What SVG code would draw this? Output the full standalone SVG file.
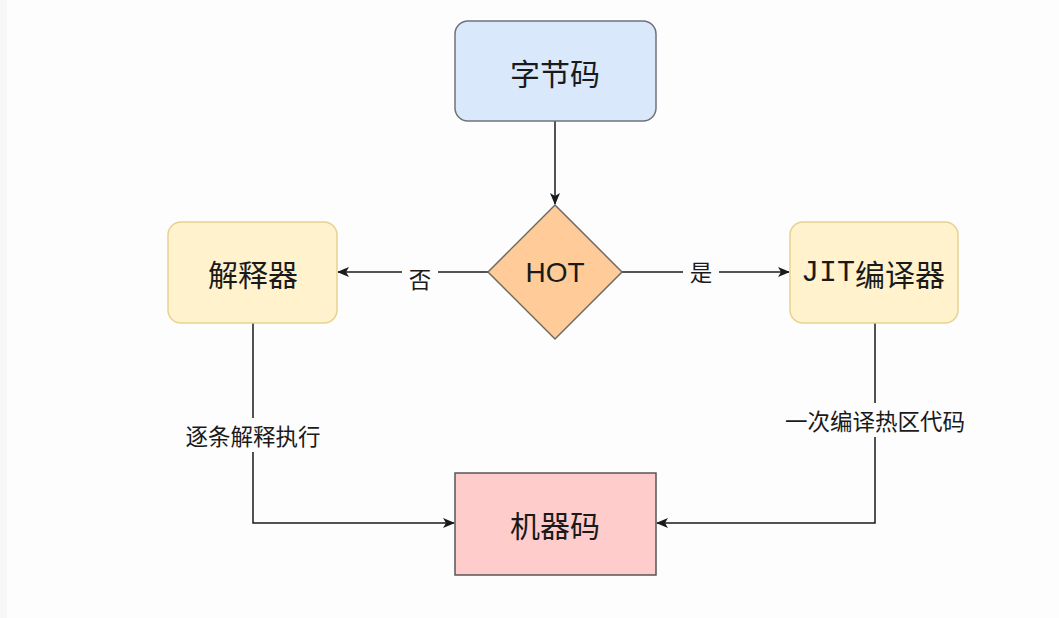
<svg xmlns="http://www.w3.org/2000/svg" width="1059" height="618" viewBox="0 0 1059 618">
<style>
.n{font-family:"Noto Sans CJK SC","Liberation Sans",sans-serif;font-size:30px;font-weight:normal;fill:#1a1a1a;text-anchor:middle;dominant-baseline:central}
.l{font-family:"Noto Sans CJK SC","Liberation Sans",sans-serif;font-size:22.5px;fill:#1a1a1a;text-anchor:middle;dominant-baseline:central}
.e{fill:none;stroke:#1a1a1a;stroke-width:1.5}
</style>
<defs>
<marker id="a" viewBox="0 0 12 10" refX="11" refY="5" markerWidth="12" markerHeight="10" markerUnits="userSpaceOnUse" orient="auto">
<path d="M0,0 L12,5 L0,10 L3,5 Z" fill="#1a1a1a"/>
</marker>
</defs>
<rect width="1059" height="618" fill="#fdfdfd"/>
<rect width="7" height="618" fill="#f7f7f7"/>
<g id="edges">
<path class="e" d="M555,121 L555,204" marker-end="url(#a)"/>
<path class="e" d="M488,272 L338,272" marker-end="url(#a)"/>
<path class="e" d="M622,272 L789,272" marker-end="url(#a)"/>
<path class="e" d="M253,323 L253,523 L454,523" marker-end="url(#a)"/>
<path class="e" d="M875,323 L875,523 L657,523" marker-end="url(#a)"/>
<rect x="402" y="262" width="36" height="32" fill="#fdfdfd"/>
<text class="l" x="420" y="278">否</text>
<rect x="683" y="256" width="36" height="32" fill="#fdfdfd"/>
<text class="l" x="701" y="271">是</text>
<rect x="178" y="418" width="150" height="34" fill="#fdfdfd"/>
<text class="l" x="253" y="435">逐条解释执行</text>
<rect x="778" y="403" width="194" height="34" fill="#fdfdfd"/>
<text class="l" x="875" y="420">一次编译热区代码</text>
</g>
<g id="bytecode">
<rect x="455" y="21" width="201" height="100" rx="13" fill="#dae8fc" stroke="#6f7378" stroke-width="1.5"/>
<text class="n" x="555" y="72">字节码</text>
</g>
<g id="hot">
<polygon points="555,205 622,272 555,339 488,272" fill="#ffcc99" stroke="#6f6a64" stroke-width="1.5"/>
<text class="n" x="555" y="272" style="font-family:'Liberation Sans',sans-serif;font-size:28px">HOT</text>
</g>
<g id="interpreter">
<rect x="168" y="222" width="169" height="101" rx="13" fill="#fff2cc" stroke="#e6d291" stroke-width="1.5"/>
<text class="n" x="253" y="273">解释器</text>
</g>
<g id="jit">
<rect x="790" y="222" width="168" height="101" rx="13" fill="#fff2cc" stroke="#e6d291" stroke-width="1.5"/>
<text class="n" x="873" y="273"><tspan style="font-family:'Liberation Mono',monospace">JIT</tspan>编译器</text>
</g>
<g id="machine">
<rect x="455" y="473" width="201" height="102" fill="#ffcccc" stroke="#555" stroke-width="1.5"/>
<text class="n" x="555" y="524">机器码</text>
</g>
</svg>
